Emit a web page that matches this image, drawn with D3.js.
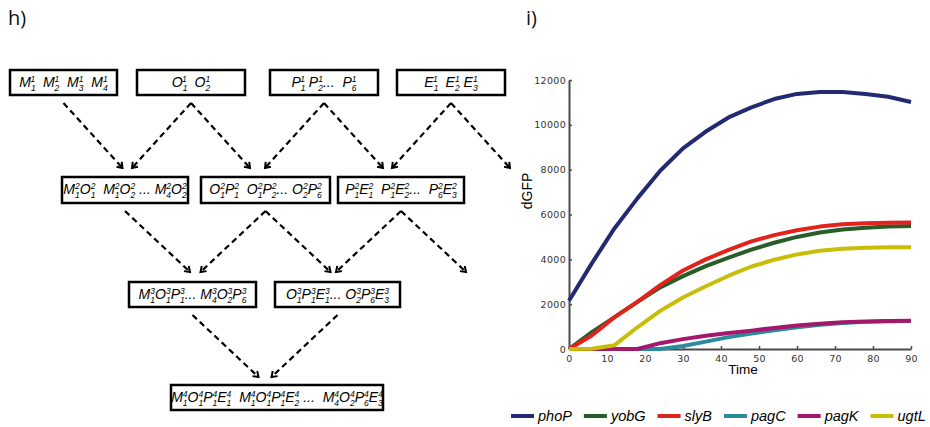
<!DOCTYPE html>
<html>
<head>
<meta charset="utf-8">
<script src="https://cdn.jsdelivr.net/npm/d3@7"></script>
<style>
  body { margin: 0; background: #fff; }
  svg { display: block; }
  .box text { white-space: pre; }
</style>
</head>
<body>
<script>
// ---- chart data (i) ----
const time = [0, 6, 12, 18, 24, 30, 36, 42, 48, 54, 60, 66, 72, 78, 84, 90];
const phoP = [2150, 3820, 5390, 6720, 7950, 8950, 9700, 10330, 10780, 11150, 11380, 11460, 11460, 11380, 11250, 11020];
const yobG = [0, 750, 1420, 2100, 2750, 3250, 3700, 4080, 4430, 4740, 5000, 5200, 5330, 5410, 5460, 5490];
const slyB = [0, 600, 1420, 2100, 2850, 3500, 4000, 4420, 4800, 5080, 5300, 5460, 5560, 5610, 5630, 5640];
const pagC = [0, 0, 0, 0, 0, 130, 330, 530, 690, 840, 970, 1080, 1160, 1210, 1240, 1250];
const pagK = [0, 0, 0, 0, 260, 440, 590, 710, 820, 940, 1050, 1130, 1190, 1230, 1250, 1262];
const ugtL = [0, 10, 170, 970, 1700, 2300, 2800, 3270, 3680, 3980, 4220, 4380, 4470, 4520, 4535, 4540];

const genes = ["phoP", "yobG", "slyB", "pagC", "pagK", "ugtL"];
const seriesValues = [phoP, yobG, slyB, pagC, pagK, ugtL];
const colors = ["#232a72", "#285c28", "#e2221b", "#2a8b9a", "#a5166d", "#c8be0a"];

const xTicks = [0, 10, 20, 30, 40, 50, 60, 70, 80, 90];
const yTicks = [0, 2000, 4000, 6000, 8000, 10000, 12000];

// ---- diagram text (h) ----
const level1 = ["M_1^1  M_2^1  M_3^1  M_4^1", "O_1^1  O_2^1", "P_1^1 P_2^1...  P_6^1", "E_1^1  E_2^1 E_3^1"];
const level2 = ["M_1^2O_1^2  M_1^2O_2^2 ... M_4^2O_2^2", "O_1^2P_1^2  O_1^2P_2^2... O_2^2P_6^2", "P_1^2E_1^2  P_1^2E_2^2...  P_6^2E_3^2"];
const level3 = ["M_1^3O_1^3P_1^3... M_4^3O_2^3P_6^3", "O_1^3P_1^3E_1^3... O_2^3P_6^3E_3^3"];
const level4 = ["M_1^4O_1^4P_1^4E_1^4  M_1^4O_1^4P_1^4E_2^4 ...  M_4^4O_2^4P_6^4E_3^4"];

const svg = d3.select("body").append("svg")
    .attr("width", 930)
    .attr("height", 427);

svg.append("rect").attr("width", 930).attr("height", 427).attr("fill", "#fff");

// panel letters
svg.append("text").attr("x", 8).attr("y", 25)
    .attr("font-family", "Open Sans").attr("font-size", 20).attr("fill", "#111").text("h)");
svg.append("text").attr("x", 526).attr("y", 25)
    .attr("font-family", "Open Sans").attr("font-size", 20).attr("fill", "#111").text("i)");

// ================= diagram =================
// layout of the levels and boxes
var levels = [
    {top: 70, h: 25, dx: 59, dy: 65},
    {top: 177, h: 26, dx: 65, dy: 61},
    {top: 282, h: 25, dx: 66, dy: 62},
    {top: 385, h: 25}
];
var boxes = [
    {lvl: 0, x: 10, w: 107, label: level1[0], arrows: "r"},
    {lvl: 0, x: 137, w: 108, label: level1[1], arrows: "lr"},
    {lvl: 0, x: 270, w: 108, label: level1[2], arrows: "lr"},
    {lvl: 0, x: 397, w: 108, label: level1[3], arrows: "lr"},
    {lvl: 1, x: 62, w: 126, label: level2[0], arrows: "r"},
    {lvl: 1, x: 201, w: 129, label: level2[1], arrows: "lr"},
    {lvl: 1, x: 338, w: 126, label: level2[2], arrows: "lr"},
    {lvl: 2, x: 129, w: 127, label: level3[0], arrows: "r"},
    {lvl: 2, x: 275, w: 125, label: level3[1], arrows: "l"},
    {lvl: 3, x: 171, w: 212, label: level4[0], arrows: ""}
];

var defs = svg.append("defs");
defs.append("marker")
    .attr("id", "head")
    .attr("viewBox", "-7 -5 9 10")
    .attr("refX", 0).attr("refY", 0)
    .attr("markerWidth", 9).attr("markerHeight", 10)
    .attr("markerUnits", "userSpaceOnUse")
    .attr("orient", "auto")
    .append("path")
    .attr("d", "M-5,-3.5L0,0L-5,3.5")
    .attr("fill", "none")
    .attr("stroke", "#000")
    .attr("stroke-width", 2);

var diagram = svg.append("g").attr("class", "diagram");

// dashed arrows
boxes.forEach(function (b) {
    var L = levels[b.lvl];
    var cx = b.x + b.w / 2;
    var y0 = L.top + L.h + 8;
    b.arrows.split("").forEach(function (side) {
        var s = side === "l" ? -1 : 1;
        diagram.append("line")
            .attr("x1", cx).attr("y1", y0)
            .attr("x2", cx + s * L.dx).attr("y2", y0 + L.dy)
            .attr("stroke", "#000")
            .attr("stroke-width", 2.2)
            .attr("stroke-dasharray", "6,4")
            .attr("marker-end", "url(#head)");
    });
});

// writes labels like M_1^2 with stacked sub/superscripts
function richText(text, str) {
    var tokens = str.match(/[A-Z]_\d\^\d|[^]/g);
    var off = 0;
    tokens.forEach(function (t) {
        if (t.length === 5) {
            text.append("tspan").attr("dy", -off).attr("font-size", 14).text(t[0]);
            var sub = text.append("tspan").attr("dy", 3.5).attr("font-size", 8.5).text(t[2]);
            var w = sub.node().getComputedTextLength();
            text.append("tspan").attr("dx", -w).attr("dy", -9).attr("font-size", 8.5).text(t[4]);
            off = -5.5;
        } else {
            text.append("tspan").attr("dy", -off).attr("font-size", 14).text(t);
            off = 0;
        }
    });
}

var boxG = diagram.selectAll(".box")
    .data(boxes)
    .enter()
    .append("g")
    .attr("class", "box");

boxG.append("rect")
    .attr("x", d => d.x)
    .attr("y", d => levels[d.lvl].top)
    .attr("width", d => d.w)
    .attr("height", d => levels[d.lvl].h)
    .attr("fill", "#fff")
    .attr("stroke", "#000")
    .attr("stroke-width", 2.5);

boxG.append("text")
    .attr("x", d => d.x + d.w / 2)
    .attr("y", d => levels[d.lvl].top + 17)
    .attr("text-anchor", "middle")
    .attr("font-family", "Liberation Sans, Arial, sans-serif")
    .attr("font-style", "italic")
    .attr("fill", "#000")
    .each(function (d) { richText(d3.select(this), d.label); });

// ================= chart =================
var x = d3.scaleLinear().domain([0, 90]).range([569, 911]);
var y = d3.scaleLinear().domain([0, 12000]).range([349, 80]);

var chart = svg.append("g").attr("class", "chart");

var gx = chart.append("g")
    .attr("transform", "translate(0,349)")
    .call(d3.axisBottom(x).tickValues(xTicks).tickFormat(d3.format("d"))
        .tickSize(-3).tickSizeOuter(0).tickPadding(6));

var gy = chart.append("g")
    .attr("transform", "translate(569,0)")
    .call(d3.axisLeft(y).tickValues(yTicks).tickFormat(d3.format("d"))
        .tickSize(-3).tickSizeOuter(0).tickPadding(3));

[gx, gy].forEach(function (g) {
    g.select(".domain").attr("stroke", "#4a4a4a").attr("stroke-width", 2);
    g.selectAll(".tick line").attr("stroke", "#4a4a4a").attr("stroke-width", 1.5);
    g.selectAll(".tick text")
        .attr("font-family", "DejaVu Sans")
        .attr("font-size", 9.5)
        .attr("letter-spacing", 0.3)
        .attr("fill", "#333");
});

chart.append("text")
    .attr("transform", "translate(532,191) rotate(-90)")
    .attr("text-anchor", "middle")
    .attr("font-family", "Liberation Sans, Arial, sans-serif")
    .attr("font-size", 14)
    .text("dGFP");

chart.append("text")
    .attr("x", 743).attr("y", 374)
    .attr("text-anchor", "middle")
    .attr("font-family", "Liberation Sans, Arial, sans-serif")
    .attr("font-size", 13.5)
    .text("Time");

var line = d3.line()
    .x(d => x(d[0]))
    .y(d => y(d[1]));

genes.forEach(function (g, i) {
    var pts = time.map((t, j) => [t, seriesValues[i][j]]);
    chart.append("path")
        .datum(pts)
        .attr("fill", "none")
        .attr("stroke", colors[i])
        .attr("stroke-width", 4)
        .attr("stroke-linejoin", "round")
        .attr("d", line);
});

// legend
var lx = 511;
genes.forEach(function (g, i) {
    chart.append("line")
        .attr("x1", lx).attr("x2", lx + 23)
        .attr("y1", 416).attr("y2", 416)
        .attr("stroke", colors[i])
        .attr("stroke-width", 4);
    var t = chart.append("text")
        .attr("x", lx + 27).attr("y", 421)
        .attr("font-family", "Liberation Sans, Arial, sans-serif")
        .attr("font-style", "italic")
        .attr("font-size", 14.5)
        .text(g);
    lx += 27 + t.node().getComputedTextLength() + 12;
});
</script>
</body>
</html>
